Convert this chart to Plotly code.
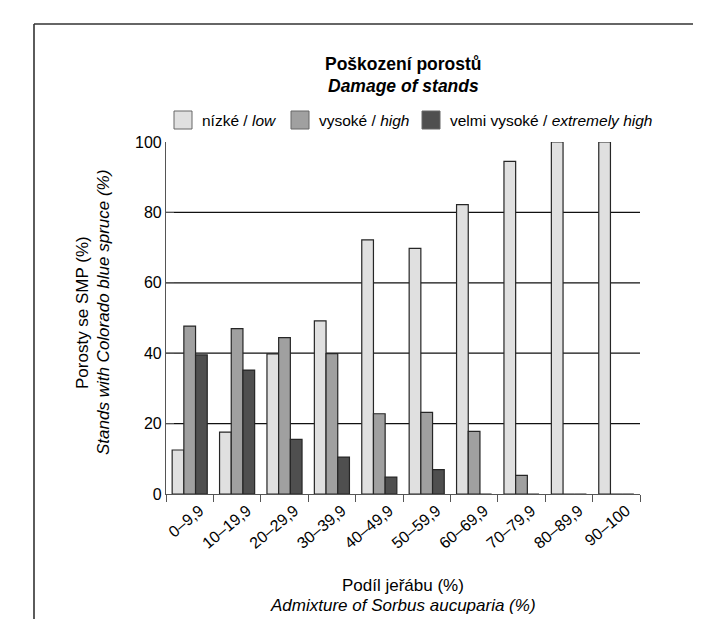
import plotly.graph_objects as go

# ---- data ----
categories = ["0–9,9", "10–19,9", "20–29,9", "30–39,9", "40–49,9",
              "50–59,9", "60–69,9", "70–79,9", "80–89,9", "90–100"]
low = [12.5, 17.6, 39.8, 49.2, 72.2, 69.8, 82.2, 94.5, 100, 100]
high = [47.7, 47.0, 44.4, 39.9, 22.8, 23.2, 17.8, 5.3, 0, 0]
extreme = [39.5, 35.2, 15.5, 10.5, 4.8, 6.9, 0, 0, 0, 0]
series_names = ["nízké / <i>low</i>", "vysoké / <i>high</i>",
                "velmi vysoké / <i>extremely high</i>"]
series_values = [low, high, extreme]
series_colors = ["#e0e0e0", "#a0a0a0", "#4f4f4f"]
y_ticks = [0, 20, 40, 60, 80, 100]
grid_values = [20, 40, 60, 80]

# ---- geometry helpers (pixel -> paper) ----
W, H = 701, 619
L, R, T, B = 158, 69, 134, 133
PW, PH = W - L - R, H - T - B


def px(x):
    return (x - L) / PW


def py(y):
    return (H - B - y) / PH


FONT = "Liberation Sans, Arial, sans-serif"

fig = go.Figure()
for name, vals, col in zip(series_names, series_values, series_colors):
    fig.add_trace(go.Bar(x=categories, y=vals, name=name,
                         marker=dict(color=col, line=dict(color="#262626", width=1.2)),
                         showlegend=False))

shapes = []
# gridlines
for g in grid_values:
    shapes.append(dict(type="line", xref="paper", x0=0, x1=1, yref="y", y0=g, y1=g,
                       line=dict(color="#111111", width=1.2), layer="below"))
# outer frame
shapes.append(dict(type="line", xref="paper", yref="paper", x0=px(26), x1=px(26),
                   y0=py(16), y1=py(H + 2), line=dict(color="#333333", width=1.6)))
shapes.append(dict(type="line", xref="paper", yref="paper", x0=px(26), x1=px(W + 2),
                   y0=py(16), y1=py(16), line=dict(color="#333333", width=1.6)))
shapes.append(dict(type="line", xref="paper", yref="paper", x0=px(700), x1=px(700),
                   y0=py(16), y1=py(H + 2), line=dict(color="#bbbbbb", width=1)))

annotations = []
# title
annotations.append(dict(text="<b>Poškození porostů</b>", xref="paper", yref="paper",
                        x=0.5, y=py(56), showarrow=False, xanchor="center", yanchor="middle",
                        font=dict(family=FONT, size=17.5, color="#000")))
annotations.append(dict(text="<b><i>Damage of stands</i></b>", xref="paper", yref="paper",
                        x=0.5, y=py(78), showarrow=False, xanchor="center", yanchor="middle",
                        font=dict(family=FONT, size=17.5, color="#000")))
# custom legend
box_x = [166, 283, 414]
for i, (name, col) in enumerate(zip(series_names, series_colors)):
    x0 = box_x[i]
    shapes.append(dict(type="rect", xref="paper", yref="paper",
                       x0=px(x0), x1=px(x0 + 18), y0=py(121), y1=py(103),
                       fillcolor=col, line=dict(color="#666666", width=1)))
    annotations.append(dict(text=name, xref="paper", yref="paper", x=px(x0 + 26), y=py(112),
                            showarrow=False, xanchor="left", yanchor="middle",
                            font=dict(family=FONT, size=15.5, color="#000")))
# axis titles
annotations.append(dict(text="Podíl jeřábu (%)", xref="paper", yref="paper", x=0.5, y=py(577),
                        showarrow=False, xanchor="center", yanchor="middle",
                        font=dict(family=FONT, size=17, color="#000")))
annotations.append(dict(text="<i>Admixture of Sorbus aucuparia (%)</i>", xref="paper", yref="paper",
                        x=0.5, y=py(597), showarrow=False, xanchor="center", yanchor="middle",
                        font=dict(family=FONT, size=17, color="#000")))
annotations.append(dict(text="Porosty se SMP (%)", xref="paper", yref="paper", x=px(74), y=py(305),
                        showarrow=False, xanchor="center", yanchor="middle", textangle=-90,
                        font=dict(family=FONT, size=17, color="#000")))
annotations.append(dict(text="<i>Stands with Colorado blue spruce (%)</i>", xref="paper", yref="paper",
                        x=px(95), y=py(305), showarrow=False, xanchor="center", yanchor="middle",
                        textangle=-90, font=dict(family=FONT, size=17, color="#000")))

fig.update_layout(
    width=W, height=H,
    margin=dict(l=L, r=R, t=T, b=B, pad=0),
    paper_bgcolor="white", plot_bgcolor="white",
    barmode="group", bargap=0.26, bargroupgap=0,
    showlegend=False,
    shapes=shapes, annotations=annotations,
    font=dict(family=FONT, color="#000"),
    xaxis=dict(type="category", tickson="boundaries", ticks="outside", ticklen=7,
               tickcolor="#555555", showline=True, linecolor="#555555", linewidth=1.2,
               showgrid=False, tickangle=-40, ticklabelshift=10,
               tickfont=dict(family=FONT, size=16, color="#000")),
    yaxis=dict(range=[0, 100], tickvals=y_ticks, ticks="inside", ticklen=8,
               tickcolor="#555555", showline=True, linecolor="#555555", linewidth=1.2,
               showgrid=False, zeroline=False,
               tickfont=dict(family=FONT, size=16, color="#000")),
)

fig.write_html("out.html")
